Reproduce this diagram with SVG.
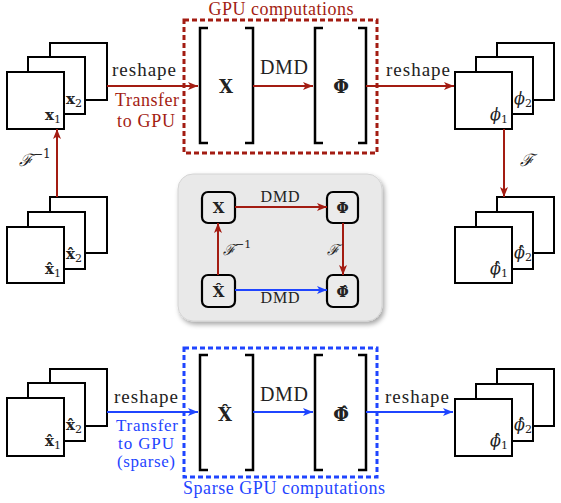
<svg xmlns="http://www.w3.org/2000/svg" width="561" height="503" viewBox="0 0 561 503">
<defs>
<style>
.sq{fill:#fff;stroke:#000;stroke-width:2}
.br{fill:none;stroke:#000;stroke-width:2.5}
.t{font-family:"Liberation Serif","DejaVu Serif",serif;fill:#222}
.m{font-family:"DejaVu Serif","Liberation Serif",serif;fill:#222}
.red{fill:#a31c12}
.blue{fill:#1f45ff}
.rl{stroke:#a31c12;stroke-width:2;fill:none}
.bl{stroke:#1f45ff;stroke-width:2;fill:none}
.node{fill:#ebebeb;stroke:#000;stroke-width:2.2}
</style>
<marker id="ar" viewBox="0 0 10 8" refX="10" refY="4" markerWidth="10" markerHeight="8" markerUnits="userSpaceOnUse" orient="auto"><path d="M0,0 L10,4 L0,8 L2.5,4 Z" fill="#a31c12"/></marker>
<marker id="ab" viewBox="0 0 10 8" refX="10" refY="4" markerWidth="10" markerHeight="8" markerUnits="userSpaceOnUse" orient="auto"><path d="M0,0 L10,4 L0,8 L2.5,4 Z" fill="#1f45ff"/></marker>
<filter id="sh" x="-10%" y="-10%" width="130%" height="130%"><feDropShadow dx="2" dy="3" stdDeviation="2.5" flood-color="#000" flood-opacity="0.35"/></filter>
</defs>

<!-- dashed boxes -->
<rect id="gpu-box" x="184" y="20" width="193" height="133" fill="none" stroke="#a31c12" stroke-width="3" stroke-dasharray="5 3"/>
<text class="t red" x="281" y="15" font-size="18" text-anchor="middle" textLength="145">GPU computations</text>
<rect id="sparse-box" x="184" y="348" width="193" height="129" fill="none" stroke="#1f45ff" stroke-width="3" stroke-dasharray="5 3"/>
<text class="t blue" x="284" y="494" font-size="18" text-anchor="middle" textLength="202">Sparse GPU computations</text>

<!-- gray central box -->
<rect id="summary-bg" x="178" y="174" width="204" height="147" rx="15" fill="#e9e9e9" stroke="#d4d4d4" stroke-width="1" filter="url(#sh)"/>

<!-- top-left stack x -->
<g id="stack-x">
<rect class="sq" x="50" y="43" width="57" height="57"/>
<rect class="sq" x="28" y="57" width="57" height="57"/>
<rect class="sq" x="7" y="72" width="57" height="57"/>
<text class="m" x="82" y="104" font-size="15" text-anchor="end"><tspan font-weight="bold">x</tspan><tspan font-size="11" dy="3">2</tspan></text>
<text class="m" x="61" y="120" font-size="15" text-anchor="end"><tspan font-weight="bold">x</tspan><tspan font-size="11" dy="3">1</tspan></text>
</g>

<!-- left middle stack xhat -->
<g id="stack-xhat">
<rect class="sq" x="50" y="197" width="57" height="56"/>
<rect class="sq" x="28" y="212" width="57" height="57"/>
<rect class="sq" x="7" y="227" width="57" height="56"/>
<text class="m" x="82" y="259" font-size="15" text-anchor="end"><tspan font-weight="bold">x̂</tspan><tspan font-size="11" dy="3">2</tspan></text>
<text class="m" x="61" y="274" font-size="15" text-anchor="end"><tspan font-weight="bold">x̂</tspan><tspan font-size="11" dy="3">1</tspan></text>
</g>

<!-- bottom-left stack xhat -->
<g id="stack-xhat-sparse">
<rect class="sq" x="50" y="369" width="57" height="57"/>
<rect class="sq" x="28" y="383" width="57" height="58"/>
<rect class="sq" x="7" y="398" width="57" height="58"/>
<text class="m" x="82" y="430" font-size="15" text-anchor="end"><tspan font-weight="bold">x̂</tspan><tspan font-size="11" dy="3">2</tspan></text>
<text class="m" x="61" y="446" font-size="15" text-anchor="end"><tspan font-weight="bold">x̂</tspan><tspan font-size="11" dy="3">1</tspan></text>
</g>

<!-- top-right stack phi -->
<g id="stack-phi">
<rect class="sq" x="497" y="43" width="57" height="57"/>
<rect class="sq" x="476" y="57" width="57" height="57"/>
<rect class="sq" x="455" y="72" width="57" height="57"/>
<text class="m" x="532" y="104" font-size="16" text-anchor="end"><tspan font-style="italic">ϕ</tspan><tspan font-size="11" dy="3">2</tspan></text>
<text class="m" x="508" y="120" font-size="16" text-anchor="end"><tspan font-style="italic">ϕ</tspan><tspan font-size="11" dy="3">1</tspan></text>
</g>

<!-- right middle stack phihat -->
<g id="stack-phihat">
<rect class="sq" x="497" y="197" width="57" height="56"/>
<rect class="sq" x="476" y="212" width="57" height="57"/>
<rect class="sq" x="455" y="227" width="57" height="56"/>
<text class="m" x="532" y="258" font-size="16" text-anchor="end"><tspan font-style="italic">ϕ̂</tspan><tspan font-size="11" dy="3">2</tspan></text>
<text class="m" x="508" y="274" font-size="16" text-anchor="end"><tspan font-style="italic">ϕ̂</tspan><tspan font-size="11" dy="3">1</tspan></text>
</g>

<!-- bottom-right stack phihat -->
<g id="stack-phihat-sparse">
<rect class="sq" x="497" y="369" width="57" height="57"/>
<rect class="sq" x="476" y="384" width="57" height="57"/>
<rect class="sq" x="455" y="399" width="57" height="57"/>
<text class="m" x="532" y="430" font-size="16" text-anchor="end"><tspan font-style="italic">ϕ̂</tspan><tspan font-size="11" dy="3">2</tspan></text>
<text class="m" x="508" y="446" font-size="16" text-anchor="end"><tspan font-style="italic">ϕ̂</tspan><tspan font-size="11" dy="3">1</tspan></text>
</g>

<!-- matrices top -->
<g id="mat-X">
<path class="br" d="M208,28 H200 V143 H208 M245,28 H253 V143 H245"/>
<text class="m" x="226" y="93" font-size="18" font-weight="bold" text-anchor="middle">X</text>
</g>
<g id="mat-Phi">
<path class="br" d="M323,28 H315 V143 H323 M358,28 H366 V143 H358"/>
<text class="m" x="341" y="93" font-size="18" font-weight="bold" text-anchor="middle">Φ</text>
</g>
<!-- matrices bottom -->
<g id="mat-Xhat">
<path class="br" d="M208,355 H200 V470 H208 M245,355 H253 V470 H245"/>
<text class="m" x="225" y="421" font-size="18" font-weight="bold" text-anchor="middle">X̂</text>
</g>
<g id="mat-Phihat">
<path class="br" d="M323,355 H315 V470 H323 M358,355 H366 V470 H358"/>
<text class="m" x="341" y="421" font-size="18" font-weight="bold" text-anchor="middle">Φ̂</text>
</g>

<!-- summary nodes -->
<g id="n-X"><rect class="node" x="202" y="192" width="33" height="31" rx="6"/><text class="m" x="218.5" y="213" font-size="15" font-weight="bold" text-anchor="middle">X</text></g>
<g id="n-Phi"><rect class="node" x="327" y="192" width="31" height="31" rx="6"/><text class="m" x="342.5" y="213" font-size="14" font-weight="bold" text-anchor="middle">Φ</text></g>
<g id="n-Xhat"><rect class="node" x="202" y="275" width="33" height="32" rx="6"/><text class="m" x="218.5" y="297" font-size="15" font-weight="bold" text-anchor="middle">X̂</text></g>
<g id="n-Phihat"><rect class="node" x="327" y="275" width="31" height="32" rx="6"/><text class="m" x="342.5" y="297" font-size="14" font-weight="bold" text-anchor="middle">Φ̂</text></g>

<!-- connectors -->
<g id="connectors">
<line class="rl" x1="107" y1="86" x2="198" y2="86" marker-end="url(#ar)"/>
<line class="rl" x1="253" y1="86" x2="313" y2="86" marker-end="url(#ar)"/>
<line class="rl" x1="366" y1="86" x2="454" y2="86" marker-end="url(#ar)"/>
<line class="rl" x1="57" y1="197" x2="57" y2="129" marker-end="url(#ar)"/>
<line class="rl" x1="504" y1="129" x2="504" y2="197" marker-end="url(#ar)"/>
<line class="bl" x1="107" y1="412" x2="198" y2="412" marker-end="url(#ab)"/>
<line class="bl" x1="253" y1="412" x2="313" y2="412" marker-end="url(#ab)"/>
<line class="bl" x1="366" y1="412" x2="453" y2="412" marker-end="url(#ab)"/>
<line class="rl" x1="235" y1="207" x2="327" y2="207" marker-end="url(#ar)" stroke-width="2.2"/>
<line class="rl" x1="343" y1="223" x2="343" y2="275" marker-end="url(#ar)" stroke-width="2.2"/>
<line class="rl" x1="218" y1="275" x2="218" y2="223" marker-end="url(#ar)" stroke-width="2.2"/>
<line class="bl" x1="235" y1="290" x2="327" y2="290" marker-end="url(#ab)" stroke-width="2.2"/>
</g>

<!-- labels -->
<g id="labels">
<text class="t" x="144" y="76" font-size="19" text-anchor="middle" textLength="64">reshape</text>
<text class="t red" x="147" y="106" font-size="18" text-anchor="middle" textLength="64">Transfer</text>
<text class="t red" x="146" y="127" font-size="18" text-anchor="middle" textLength="58">to GPU</text>
<text class="t" x="284" y="74" font-size="20" text-anchor="middle" textLength="48">DMD</text>
<text class="t" x="418" y="76" font-size="19" text-anchor="middle" textLength="64">reshape</text>
<text class="m" x="527" y="166" font-size="17" font-style="italic" text-anchor="middle">ℱ</text>
<text class="m" x="19" y="166" font-size="17" font-style="italic">ℱ<tspan font-size="12" font-style="normal" dy="-8">−1</tspan></text>

<text class="t" x="280" y="202" font-size="16" text-anchor="middle" textLength="39">DMD</text>
<text class="t" x="280" y="303" font-size="16" text-anchor="middle" textLength="39">DMD</text>
<text class="m" x="333" y="255" font-size="15" font-style="italic" text-anchor="middle">ℱ</text>
<text class="m" x="223" y="255" font-size="15" font-style="italic">ℱ<tspan font-size="11" font-style="normal" dy="-7">−1</tspan></text>

<text class="t" x="146" y="403" font-size="19" text-anchor="middle" textLength="64">reshape</text>
<text class="t blue" x="147" y="431" font-size="17" text-anchor="middle" textLength="62">Transfer</text>
<text class="t blue" x="146" y="449" font-size="17" text-anchor="middle" textLength="56">to GPU</text>
<text class="t blue" x="146" y="467" font-size="17" text-anchor="middle" textLength="58">(sparse)</text>
<text class="t" x="284" y="401" font-size="20" text-anchor="middle" textLength="48">DMD</text>
<text class="t" x="417" y="403" font-size="19" text-anchor="middle" textLength="64">reshape</text>
</g>
</svg>
